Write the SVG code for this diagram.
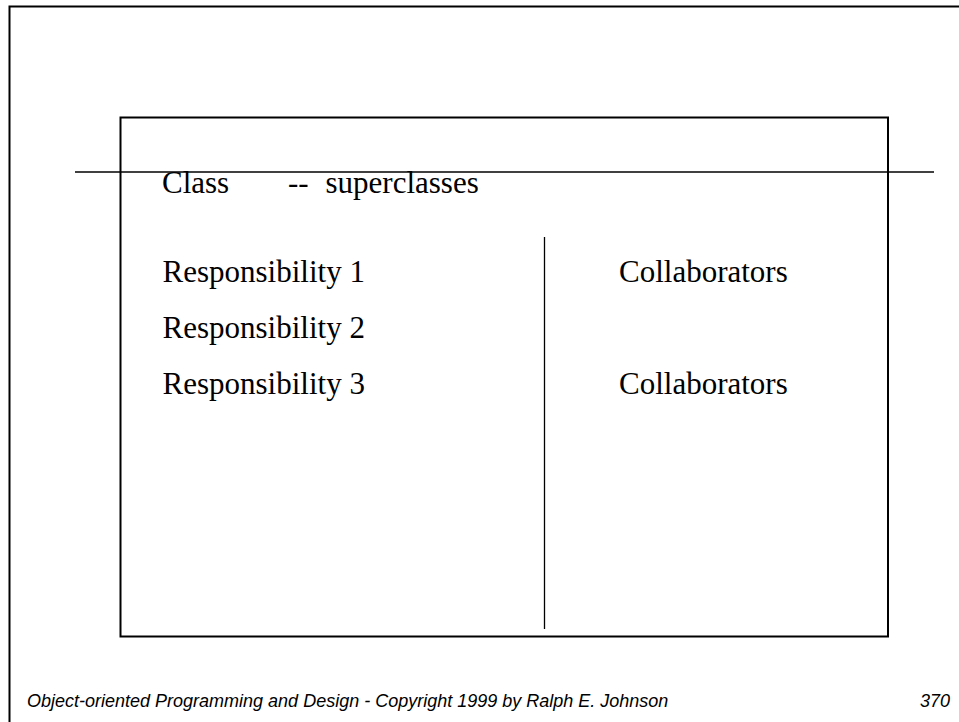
<svg xmlns="http://www.w3.org/2000/svg" width="959" height="722" viewBox="0 0 959 722">
<style>
.t{font-family:"Liberation Serif","Times New Roman",serif;font-size:31px;fill:#000}
.f{font-family:"Liberation Sans",Arial,sans-serif;font-style:italic;font-size:18px;fill:#000}
.frame{fill:none;stroke:#000;stroke-width:2}
.thin{stroke:#000;stroke-width:1.3;fill:none}
</style>
<rect width="959" height="722" fill="#fff"/>
<g id="page">
<path class="frame" d="M9.5,722 V6.5 H960"/>
</g>
<g id="card">
<rect class="frame" x="120.5" y="117.5" width="767.5" height="519"/>
</g>
<g id="connectors">
<line class="thin" x1="75" y1="172" x2="934" y2="172"/>
<line class="thin" x1="544.5" y1="237" x2="544.5" y2="629"/>
</g>
<g id="header">
<text class="t" x="162" y="193">Class</text>
<text class="t" x="288" y="193">--</text>
<text class="t" x="325.5" y="193">superclasses</text>
</g>
<g id="responsibilities">
<text class="t" x="162.5" y="281.5">Responsibility 1</text>
<text class="t" x="162.5" y="338">Responsibility 2</text>
<text class="t" x="162.5" y="394">Responsibility 3</text>
</g>
<g id="collaborators">
<text class="t" x="619" y="281.5">Collaborators</text>
<text class="t" x="619" y="394">Collaborators</text>
</g>
<g id="footer">
<text class="f" x="27" y="707">Object-oriented Programming and Design - Copyright 1999 by Ralph E. Johnson</text>
<text class="f" x="950" y="707" text-anchor="end">370</text>
</g>
</svg>
